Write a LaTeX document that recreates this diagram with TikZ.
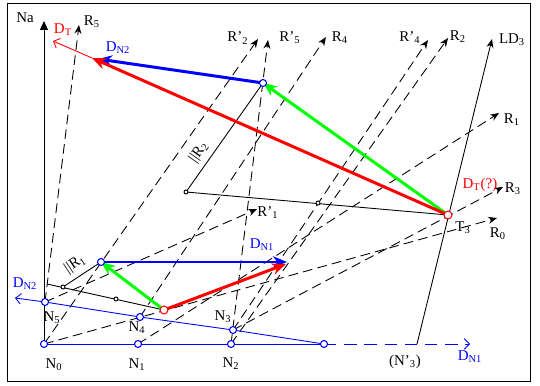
\documentclass[tikz,border=0pt]{standalone}
\usepackage{fontspec}
\setmainfont{Liberation Serif}
\usetikzlibrary{arrows.meta}
\definecolor{vecblue}{HTML}{0000FF}
\definecolor{vecred}{HTML}{FF0000}
\definecolor{vecgreen}{HTML}{00FF00}

\begin{document}
\begin{tikzpicture}[x=0.02cm, y=-0.02cm, font=\fontsize{8.5}{10}\selectfont,
    thin line/.style={line width=0.5pt},
    ray/.style={line width=0.5pt, dash pattern=on 5.5pt off 3pt, -{Stealth[length=5pt,width=4pt]}},
    vec/.style={line width=1.7pt, -{Stealth[length=8pt,width=6.5pt]}},
    npoint/.style={circle, draw=vecblue, fill=white, line width=0.6pt, inner sep=0pt, minimum size=4pt},
    tpoint/.style={circle, draw=vecred, fill=white, line width=0.6pt, inner sep=0pt, minimum size=4.5pt},
    spoint/.style={circle, draw, fill=white, line width=0.5pt, inner sep=0pt, minimum size=2.3pt},
    lbl/.style={inner sep=0pt}]
    % frame
    \draw[thin line, fill=white] (7,3) rectangle (530,381);
    \useasboundingbox (0,0) rectangle (540,385);
    % points of the construction
    \coordinate (N0) at (44,344);
    \coordinate (N1) at (138,344);
    \coordinate (N2) at (231,344);
    \coordinate (Nb) at (324,344);
    \coordinate (N3p) at (417,344);
    \coordinate (N3) at (233,330);
    \coordinate (N4) at (140,317);
    \coordinate (N5) at (45,302);
    \coordinate (P1) at (101,262);
    \coordinate (P2) at (263,83);
    \coordinate (M) at (164,310);
    \coordinate (T3) at (448,215);
    \coordinate (Q0) at (47,284);
    \coordinate (Q1) at (63,287);
    \coordinate (Q2) at (116,299);
    \coordinate (Q3) at (186,192);
    \coordinate (Q4) at (318,203);
    % ray ends
    \coordinate (Na) at (44,21);
    \coordinate (R5) at (79,25);
    \coordinate (R2p) at (258,39);
    \coordinate (R5p) at (268,40);
    \coordinate (R4) at (326,37);
    \coordinate (R4p) at (428,40);
    \coordinate (R2) at (448,38);
    \coordinate (LD3) at (492,39);
    \coordinate (R1) at (499,113);
    \coordinate (R3) at (503,187);
    \coordinate (R0) at (497,218);
    \coordinate (R1p) at (257,209);
    \coordinate (DN1) at (470,344);
    \coordinate (DN2) at (15,298);
    \coordinate (VN1) at (287,262);
    \coordinate (VT1) at (286,264);
    \coordinate (VN2) at (98,59);
    \coordinate (VT2) at (92,58);
    \coordinate (DT) at (53,41);

    % Na axis
    \draw[thin line, -{Triangle[length=5pt,width=4.5pt]}] (N0) -- (Na);
    % rays
    \draw[ray] (N5) -- (R5);
    \draw[ray] (N0) -- (R2p);
    \draw[ray] (N2) -- (R5p);
    \draw[ray] (N4) -- (R4);
    \draw[ray] (N3) -- (R4p);
    \draw[ray] (N2) -- (R2);
    \draw[ray] (N1) -- (R1);
    \draw[ray] (N3) -- (R3);
    \draw[ray] (N0) -- (R0);
    \draw[ray] (N5) -- (R1p);
    % line LD3
    \draw[thin line, -{Stealth[length=5pt,width=4pt]}] (N3p) -- (LD3);
    % parallels and joining lines
    \draw[thin line] (Q0) -- (M);
    \draw[thin line] (Q1) -- (P1)
        node[lbl, pos=0.5, sloped, above=3pt] (lpR1) {||R\textsubscript{1}};
    \draw[thin line] (Q3) -- (T3);
    \draw[thin line] (Q3) -- (P2)
        node[lbl, pos=0.3, sloped, above=3pt] (lpR2) {||R\textsubscript{2}};
    % blue base lines
    \draw[vecblue, thin line] (N0) -- (Nb);
    \draw[vecblue, thin line, dash pattern=on 7pt off 4.5pt, -{Straight Barb[length=3pt,width=6pt]}] (Nb) -- (DN1);
    \draw[vecblue, thin line, -{Straight Barb[length=3pt,width=6pt]}] (Nb) -- (N3) -- (N4) -- (N5) -- (DN2);
    % velocity vectors
    \draw[vecred, thin line, -{Straight Barb[length=3pt,width=6pt]}] (VT2) -- (DT);
    \draw[vec, vecgreen] (M) -- (P1);
    \draw[vec, vecgreen] (T3) -- (P2);
    \draw[vec, vecblue] (P1) -- (VN1);
    \draw[vec, vecblue] (P2) -- (VN2);
    \draw[vec, vecred] (M) -- (VT1);
    \draw[vec, vecred] (T3) -- (VT2);
    % points
    \foreach \p in {N0,N1,N2,Nb,N3,N4,N5,P1,P2}
        \node[npoint] at (\p) {};
    \foreach \p in {M,T3}
        \node[tpoint] at (\p) {};
    \foreach \p in {Q1,Q2,Q3,Q4}
        \node[spoint] at (\p) {};

    % labels
    \node[lbl] (lNa) at (25,18) {Na};
    \node[lbl, vecred] (lDT) at (63,30) {D\textsubscript{T}};
    \node[lbl] (lR5) at (92,22) {R\textsubscript{5}};
    \node[lbl, vecblue] (lDN2) at (118,48) {D\textsubscript{N2}};
    \node[lbl] (lR2p) at (238,38) {R'\textsubscript{2}};
    \node[lbl] (lR5p) at (290,38) {R'\textsubscript{5}};
    \node[lbl] (lR4) at (340,38) {R\textsubscript{4}};
    \node[lbl] (lR4p) at (410,38) {R'\textsubscript{4}};
    \node[lbl] (lR2) at (458,37) {R\textsubscript{2}};
    \node[lbl] (lLD3) at (512,40) {LD\textsubscript{3}};
    \node[lbl] (lR1) at (512,120) {R\textsubscript{1}};
    \node[lbl, vecred] (lDTq) at (480,185) {D\textsubscript{T}(?)};
    \node[lbl] (lR3) at (513,189) {R\textsubscript{3}};
    \node[lbl] (lR1p) at (268,213) {R'\textsubscript{1}};
    \node[lbl] (lT3) at (463,228) {T\textsubscript{3}};
    \node[lbl] (lR0) at (498,234) {R\textsubscript{0}};
    \node[lbl, vecblue] (lDN1) at (262,245) {D\textsubscript{N1}};
    \node[lbl, vecblue] (lDN2b) at (25,284) {D\textsubscript{N2}};
    \node[lbl] (lN5) at (52,318) {N\textsubscript{5}};
    \node[lbl] (lN4) at (137,328) {N\textsubscript{4}};
    \node[lbl] (lN3) at (223,317) {N\textsubscript{3}};
    \node[lbl] (lN0) at (54,365) {N\textsubscript{0}};
    \node[lbl] (lN1) at (137,365) {N\textsubscript{1}};
    \node[lbl] (lN2) at (231,364) {N\textsubscript{2}};
    \node[lbl] (lN3p) at (405,362) {(N'\textsubscript{3})};
    \node[lbl, vecblue] (lDN1b) at (470,357) {D\textsubscript{N1}};
\end{tikzpicture}
\end{document}
